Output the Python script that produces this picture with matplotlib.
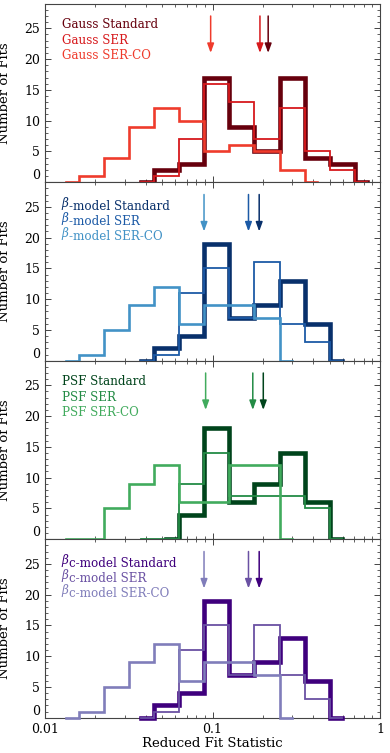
import numpy as np
import matplotlib
matplotlib.use("Agg")
import matplotlib.pyplot as plt
from matplotlib.ticker import LogLocator, MultipleLocator, FixedLocator, FixedFormatter

plt.rcParams['font.family'] = ['DejaVu Serif']

# bin centres of the histograms, log10(reduced fit statistic)
bin_centers = [-1.875, -1.725, -1.575, -1.425, -1.275, -1.125, -0.975,
               -0.825, -0.675, -0.525, -0.375, -0.225, -0.075]

# counts per bin (None = bin not drawn)
gauss_std = [None, None, None, 0, 2, 3, 17, 9, 5, 17, 4, 3, 0]
gauss_ser = [None, None, None, 0, 1, 7, 16, 13, 7, 12, 5, 2, 0]
gauss_serco = [0, 1, 4, 9, 12, 10, 5, 6, 5, 2, 0, None, None]

beta_std = [None, None, None, 0, 2, 4, 19, 7, 9, 13, 6, 0, None]
beta_ser = [None, None, None, 0, 1, 11, 15, 7, 16, 6, 3, 0, None]
beta_serco = [0, 1, 5, 9, 12, 6, 9, 9, 7, 0, None, None, None]

psf_std = [None, None, None, None, 0, 4, 18, 6, 9, 14, 6, 0, None]
psf_ser = [None, None, None, 0, 0, 9, 14, 7, 7, 7, 5, 0, None]
psf_serco = [0, 0, 5, 9, 12, 6, 6, 12, 12, 0, None, None, None]

betac_std = [None, None, None, 0, 2, 4, 19, 7, 9, 13, 6, 0, None]
betac_ser = [None, None, None, 0, 1, 11, 15, 7, 15, 7, 3, 0, None]
betac_serco = [0, 1, 5, 9, 12, 6, 9, 9, 7, 0, None, None, None]

# medians (arrows): Standard, SER, SER-CO
gauss_med = [0.215, 0.192, 0.0975]
beta_med = [0.190, 0.164, 0.089]
psf_med = [0.201, 0.174, 0.091]
betac_med = [0.190, 0.164, 0.089]

# (greek prefix, rest of model name)
panels = [
    (("", "Gauss"), [gauss_std, gauss_ser, gauss_serco], gauss_med,
     ["#67000d", "#d7191c", "#ef3b2c"]),
    (("β", "-model"), [beta_std, beta_ser, beta_serco], beta_med,
     ["#08306b", "#1c5aa6", "#4292c6"]),
    (("", "PSF"), [psf_std, psf_ser, psf_serco], psf_med,
     ["#00441b", "#238b45", "#41ab5d"]),
    (("β", "c-model"), [betac_std, betac_ser, betac_serco], betac_med,
     ["#3f007d", "#6a51a3", "#807dba"]),
]
kinds = ["Standard", "SER", "SER-CO"]
widths = [3.3, 1.3, 1.9]


def staircase(vals):
    # IDL psym=10 style histogram: flat at each bin centre, steps halfway
    idx = [i for i, v in enumerate(vals) if v is not None]
    c = [bin_centers[i] for i in idx]
    v = [vals[i] for i in idx]
    xs, ys = [c[0]], [v[0]]
    for i in range(len(c) - 1):
        m = 0.5 * (c[i] + c[i + 1])
        xs += [m, m]
        ys += [v[i], v[i + 1]]
    xs.append(c[-1])
    ys.append(v[-1])
    return 10 ** np.array(xs), np.array(ys)


fig = plt.figure(figsize=(3.9, 7.53), dpi=100)
left, width = 45 / 390, 335 / 390
h = 178.5 / 753
bottom0 = 1 - 717.7 / 753

axes = []
for p, ((greek, name), series, meds, colors) in enumerate(panels):
    b = bottom0 + (3 - p) * h
    ax = fig.add_axes([left, b, width, h])
    axes.append(ax)

    for vals, col, lw in zip(series, colors, widths):
        x, y = staircase(vals)
        ax.plot(x, y, color=col, lw=lw, solid_joinstyle='miter',
                clip_on=False, zorder=3)

    for m, col in zip(meds, colors):
        ax.annotate("", xy=(m, 21), xytext=(m, 27),
                    arrowprops=dict(arrowstyle="-|>,head_length=0.55,head_width=0.2",
                                    color=col, lw=1.1, shrinkA=0, shrinkB=0))

    for j, (kind, col) in enumerate(zip(kinds, colors)):
        ty = 0.862 - 0.085 * j
        if greek:
            g = ax.text(0.05, ty, greek, color=col, transform=ax.transAxes,
                        va='baseline', ha='left', fontsize=8.6,
                        fontstyle='italic')
            ax.annotate(name + " " + kind, xy=(1, 0), xycoords=g,
                        color=col, va='baseline', ha='left', fontsize=8.6)
        else:
            ax.text(0.05, ty, name + " " + kind, color=col,
                    transform=ax.transAxes, va='baseline', ha='left',
                    fontsize=8.6)

    ax.set_xscale('log')
    ax.set_xlim(0.01, 1)
    ax.set_ylim(0, 29)
    ax.yaxis.set_major_locator(FixedLocator([0, 5, 10, 15, 20, 25]))
    ax.yaxis.set_minor_locator(MultipleLocator(1))
    ax.xaxis.set_major_locator(LogLocator(base=10, numticks=5))
    ax.xaxis.set_minor_locator(LogLocator(base=10, subs=np.arange(2, 10), numticks=10))
    ax.tick_params(which='both', direction='in', top=True, right=True,
                   color='#444444', labelsize=9)
    ax.tick_params(which='major', length=4, width=0.7)
    ax.tick_params(which='minor', length=2, width=0.6)
    for s in ax.spines.values():
        s.set_color('#444444')
        s.set_linewidth(0.8)
    ax.set_ylabel("Number of Fits", fontsize=9.5)
    ax.yaxis.set_label_coords(-0.1, 0.5)
    ax.yaxis.get_major_ticks()[0].label1.set_va('bottom')

    if p < 3:
        ax.tick_params(axis='x', labelbottom=False)
    else:
        ax.xaxis.set_major_formatter(FixedFormatter(["0.01", "0.1", "1"]))
        ax.xaxis.set_major_locator(FixedLocator([0.01, 0.1, 1]))
        ax.set_xlabel("Reduced Fit Statistic", fontsize=9.5, labelpad=1)

fig.savefig("out.png", dpi=100)
